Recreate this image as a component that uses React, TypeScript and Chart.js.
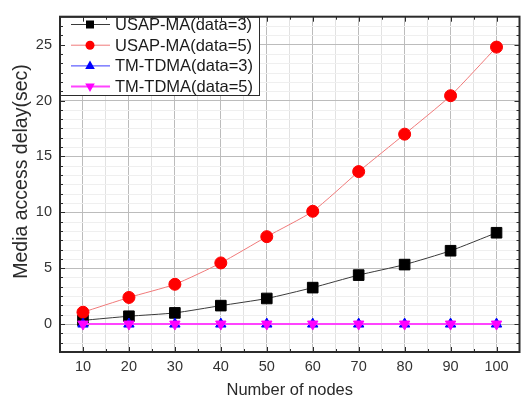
import React, { useEffect, useRef } from 'react';
import { Chart, registerables } from 'chart.js';

Chart.register(...registerables);

const nodes = [10, 20, 30, 40, 50, 60, 70, 80, 90, 100];
const usapMa3 = [0.33, 0.7, 1.0, 1.65, 2.29, 3.26, 4.38, 5.32, 6.56, 8.17];
const usapMa5 = [1.06, 2.38, 3.56, 5.47, 7.82, 10.09, 13.64, 16.99, 20.43, 24.78];
const tmTdma3 = [0, 0, 0, 0, 0, 0, 0, 0, 0, 0];
const tmTdma5 = [0, 0, 0, 0, 0, 0, 0, 0, 0, 0];
const seriesLabels = ['USAP-MA(data=3)', 'USAP-MA(data=5)', 'TM-TDMA(data=3)', 'TM-TDMA(data=5)'];
const xTickLabels = [10, 20, 30, 40, 50, 60, 70, 80, 90, 100];
const yTickLabels = [0, 5, 10, 15, 20, 25];
const xTitle = 'Number of nodes';
const yTitle = 'Media access delay(sec)';

const FONT = "'Liberation Sans', Arial, sans-serif";
const MAJOR_GRID = '#bcbcbc';
const MINOR_GRID = '#e2e2e2';
const FRAME = '#2b2b2b';

type Style = { line: string; fill: string; shape: string; width: number };
const styles: Style[] = [
  { line: '#3a3a3a', fill: '#000000', shape: 'rect', width: 1 },
  { line: '#f07a7a', fill: '#ff0000', shape: 'circle', width: 1 },
  { line: '#3a3aff', fill: '#0000ff', shape: 'tri', width: 1 },
  { line: '#ff44ff', fill: '#ff00ff', shape: 'triDown', width: 2 },
];

function drawMarker(ctx: CanvasRenderingContext2D, shape: string, x: number, y: number, r: number, color: string) {
  ctx.save();
  ctx.fillStyle = color;
  ctx.beginPath();
  if (shape === 'rect') {
    ctx.rect(x - r, y - r, 2 * r, 2 * r);
  } else if (shape === 'circle') {
    ctx.arc(x, y, r, 0, Math.PI * 2);
  } else if (shape === 'tri') {
    ctx.moveTo(x, y - r * 1.1);
    ctx.lineTo(x + r * 1.0, y + r * 0.65);
    ctx.lineTo(x - r * 1.0, y + r * 0.65);
    ctx.closePath();
  } else {
    ctx.moveTo(x, y + r * 1.1);
    ctx.lineTo(x + r * 1.0, y - r * 0.65);
    ctx.lineTo(x - r * 1.0, y - r * 0.65);
    ctx.closePath();
  }
  ctx.fill();
  ctx.restore();
}

const framePlugin = {
  id: 'framePlugin',
  beforeDatasetsDraw(chart: any) {
    const { ctx, chartArea: a, scales } = chart;
    const y = scales.y;
    ctx.save();
    ctx.strokeStyle = '#efefef';
    ctx.lineWidth = 1;
    for (let i = -3; i <= 33; i++) {
      if (i % 6 === 0) continue;
      const v = (i * 5) / 6;
      const py = Math.round(y.getPixelForValue(v)) + 0.5;
      if (py <= a.top + 1 || py >= a.bottom - 1) continue;
      ctx.beginPath();
      ctx.moveTo(a.left, py);
      ctx.lineTo(a.right, py);
      ctx.stroke();
    }
    ctx.restore();
  },
  afterDraw(chart: any) {
    const { ctx, chartArea: a, scales } = chart;
    const x = scales.x;
    const y = scales.y;
    ctx.save();
    // legend box
    const lx0 = a.left, ly0 = a.top, lx1 = 259, ly1 = 95;
    ctx.fillStyle = '#ffffff';
    ctx.fillRect(lx0, ly0, lx1 - lx0, ly1 - ly0);
    ctx.strokeStyle = FRAME;
    ctx.lineWidth = 1;
    ctx.strokeRect(lx0 + 0.5, ly0 + 0.5, lx1 - lx0, ly1 - ly0);
    const rows = [24.5, 45.2, 65.9, 86.6];
    ctx.font = `16.5px ${FONT}`;
    ctx.textBaseline = 'middle';
    ctx.textAlign = 'left';
    seriesLabels.forEach((lab, i) => {
      const s = styles[i];
      const ry = rows[i];
      ctx.strokeStyle = s.line;
      ctx.lineWidth = s.width;
      ctx.beginPath();
      ctx.moveTo(71, ry);
      ctx.lineTo(110, ry);
      ctx.stroke();
      drawMarker(ctx, s.shape, 90, ry, s.shape === 'rect' ? 4 : s.shape === 'circle' ? 4.5 : 4.8, s.fill);
      ctx.fillStyle = '#1a1a1a';
      ctx.fillText(lab, 115, ry + 1);
    });

    // frame
    ctx.strokeStyle = FRAME;
    ctx.lineWidth = 2;
    ctx.strokeRect(a.left, a.top, a.right - a.left, a.bottom - a.top);

    // inward ticks
    ctx.lineWidth = 1;
    ctx.strokeStyle = FRAME;
    for (let v = 10; v <= 100; v += 5) {
      const len = v % 10 === 0 ? 5 : 3;
      const px = Math.round(x.getPixelForValue(v)) + 0.5;
      ctx.beginPath();
      ctx.moveTo(px, a.bottom);
      ctx.lineTo(px, a.bottom - len);
      ctx.moveTo(px, a.top);
      ctx.lineTo(px, a.top + len);
      ctx.stroke();
    }
    for (let i = -2; i <= 32; i++) {
      const v = (i * 5) / 6;
      const len = i % 6 === 0 ? 5 : 3;
      const py = Math.round(y.getPixelForValue(v)) + 0.5;
      ctx.beginPath();
      ctx.moveTo(a.left, py);
      ctx.lineTo(a.left + len, py);
      ctx.moveTo(a.right, py);
      ctx.lineTo(a.right - len, py);
      ctx.stroke();
    }

    // y title
    ctx.translate(21.5, 171.5);
    ctx.rotate(-Math.PI / 2);
    ctx.textAlign = 'center';
    ctx.textBaseline = 'middle';
    ctx.font = `19.5px ${FONT}`;
    ctx.fillStyle = '#2a2a2a';
    ctx.fillText(yTitle, 0, 0);
    ctx.restore();
  },
};

export default function App() {
  const ref = useRef<HTMLCanvasElement | null>(null);

  useEffect(() => {
    document.body.style.margin = '0';
    const canvas = ref.current;
    if (!canvas) return;
    const series = [usapMa3, usapMa5, tmTdma3, tmTdma5];
    const orders = [3, 2, 1, 0];
    const datasets = series.map((vals, i) => {
      const s = styles[i];
      const r = s.shape === 'rect' ? 7.5 : 6;
      return {
        label: seriesLabels[i],
        data: nodes.map((n, j) => ({ x: n, y: vals[j] })),
        borderColor: s.line,
        borderWidth: s.width,
        backgroundColor: s.fill,
        pointBackgroundColor: s.fill,
        pointBorderColor: s.fill,
        pointBorderWidth: 1,
        pointStyle: s.shape === 'rect' ? 'rect' : s.shape === 'circle' ? 'circle' : 'triangle',
        pointRotation: s.shape === 'triDown' ? 180 : 0,
        pointRadius: r,
        pointHoverRadius: r,
        tension: 0.2,
        fill: false,
        order: orders[i],
      };
    });

    const chart = new Chart(canvas, {
      type: 'line',
      data: { datasets },
      plugins: [framePlugin],
      options: {
        animation: false,
        responsive: false,
        layout: { padding: { left: 0, right: 4, top: 12, bottom: 0 } },
        plugins: { legend: { display: false }, tooltip: { enabled: false } },
        scales: {
          x: {
            type: 'linear',
            min: 5,
            max: 105,
            afterFit: (s: any) => { s.height = 46; },
            ticks: {
              stepSize: 5,
              autoSkip: false,
              maxRotation: 0,
              padding: 6,
              color: '#333',
              font: { family: FONT, size: 14.5 },
              callback: (v: any) => (xTickLabels.includes(Number(v)) ? String(v) : ''),
            },
            grid: {
              drawTicks: false,
              color: (c: any) => (c.tick && c.tick.value % 10 === 0 ? MAJOR_GRID : MINOR_GRID),
              lineWidth: 1,
            },
            border: { display: false },
            title: {
              display: true,
              text: xTitle,
              color: '#2a2a2a',
              font: { family: FONT, size: 16.5, lineHeight: 1 },
              padding: { top: 0, bottom: -1 },
            },
          },
          y: {
            type: 'linear',
            min: -2.5,
            max: 27.5,
            afterFit: (s: any) => { s.width = 60; },
            afterBuildTicks: (s: any) => { s.ticks = yTickLabels.map((v) => ({ value: v })); },
            ticks: {
              padding: 8,
              color: '#333',
              font: { family: FONT, size: 14.5 },
              callback: (v: any) => String(v),
            },
            grid: { drawTicks: false, color: MAJOR_GRID, lineWidth: 1 },
            border: { display: false },
            title: { display: false },
          },
        },
      },
    } as any);
    return () => chart.destroy();
  }, []);

  return <canvas ref={ref} width={528} height={398} style={{ display: 'block' }} />;
}
